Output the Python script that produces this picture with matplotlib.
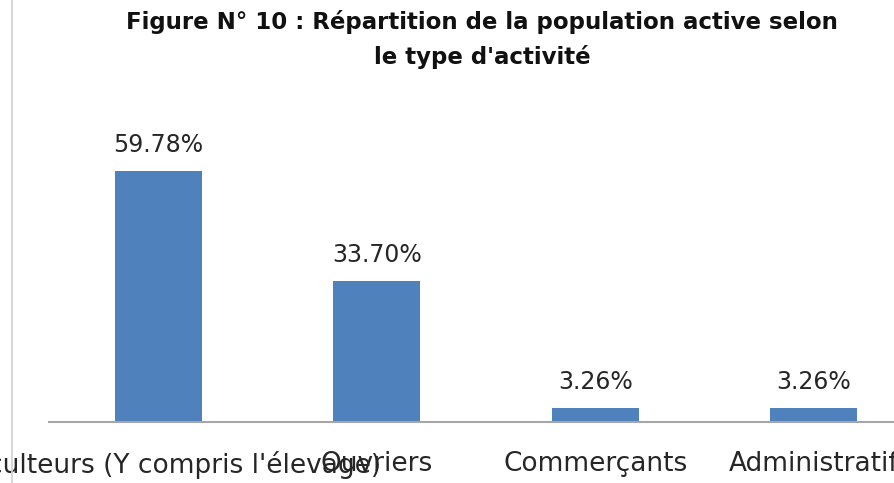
import matplotlib
matplotlib.use("Agg")
import matplotlib.pyplot as plt
from matplotlib.lines import Line2D

categories = ["Agriculteurs (Y compris l'élevage)", "Ouvriers", "Commerçants", "Administratif"]
values = [59.78, 33.70, 3.26, 3.26]
value_labels = ["59.78%", "33.70%", "3.26%", "3.26%"]
title_lines = ["Figure N° 10 : Répartition de la population active selon", "le type d'activité"]

W, H = 895, 483
fig = plt.figure(figsize=(W / 100, H / 100), dpi=100)
fig.patch.set_facecolor("white")

# axes placement in pixels
left_px, right_px = 49, 923
base_px = 422
px_per_unit = 251 / 59.78
ymax = 78
top_px = base_px - ymax * px_per_unit
ax = fig.add_axes([left_px / W, (H - base_px) / H, (right_px - left_px) / W, (base_px - top_px) / H])
ax.set_xlim(-0.5, len(categories) - 0.5)
ax.set_ylim(0, ymax)

x = list(range(len(categories)))
ax.bar(x, values, width=0.4, color="#4f81bd", zorder=2)

for xi, v, lab in zip(x, values, value_labels):
    ax.annotate(lab, (xi, v), xytext=(0, 14), textcoords="offset pixels",
                ha="center", va="bottom", fontsize=17, color="#262626",
                family="DejaVu Sans")

for s in ["left", "right", "top"]:
    ax.spines[s].set_visible(False)
ax.spines["bottom"].set_color("#a6a6a6")
ax.spines["bottom"].set_linewidth(1.5)
ax.set_yticks([])
ax.set_xticks(x)
ax.set_xticklabels(categories, fontsize=19, color="#262626", family="DejaVu Sans")
ax.tick_params(axis="x", length=0, pad=21)

for line, ypx in zip(title_lines, [22, 57]):
    fig.text(482 / W, 1 - ypx / H, line, ha="center", va="center", fontsize=16.5,
             fontweight="bold", family="DejaVu Sans", color="#111111")

fig.add_artist(Line2D([12 / W, 12 / W], [0, 1], transform=fig.transFigure,
                      color="#d0d0d0", lw=1.2))

fig.savefig("out.png", dpi=100)
